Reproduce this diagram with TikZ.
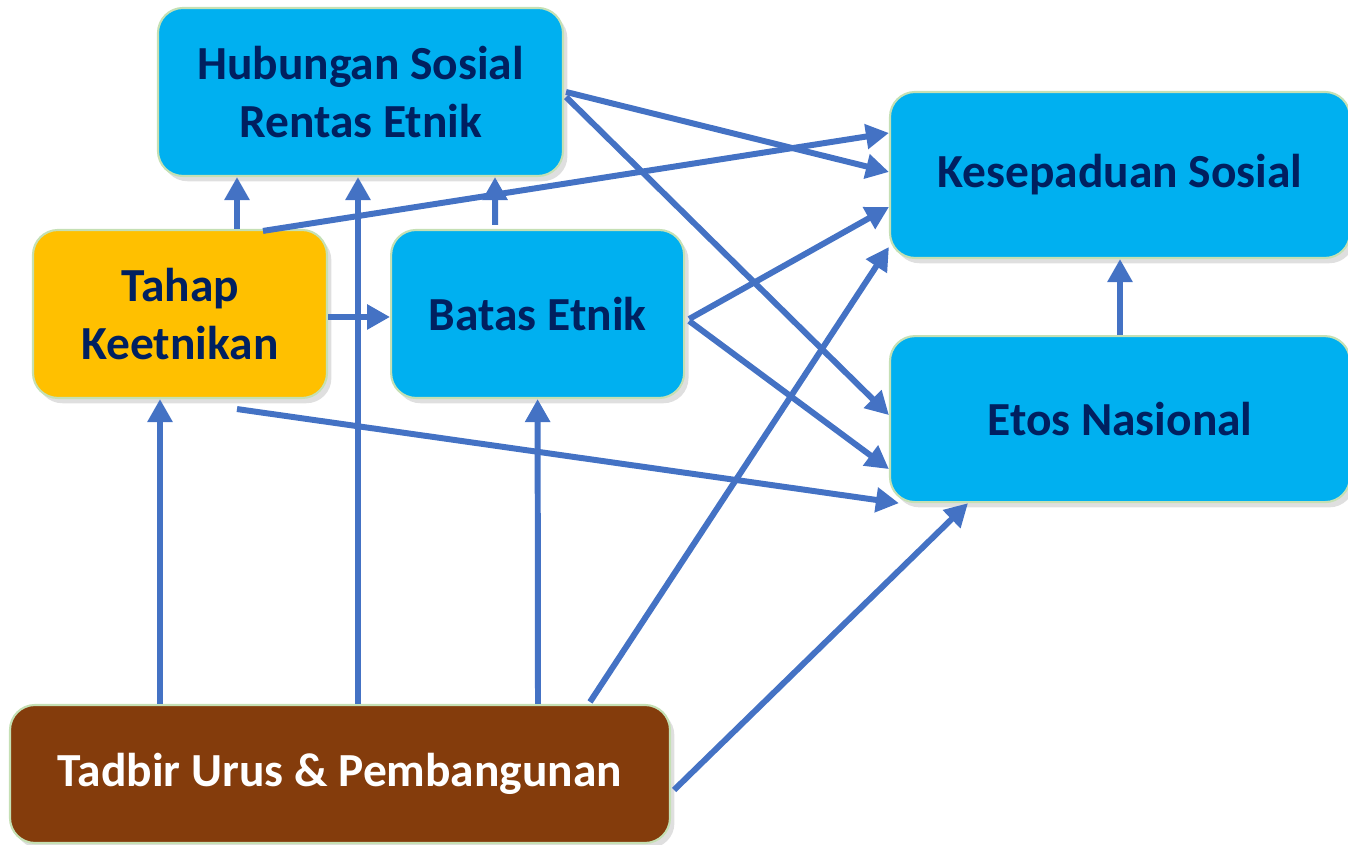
\documentclass[tikz,border=0pt]{standalone}
\usepackage{fontspec}
\setmainfont{Carlito}
\usetikzlibrary{shapes,arrows.meta,positioning,calc,shadows}

\definecolor{boxblue}{HTML}{00B0F0}
\definecolor{boxorange}{HTML}{FFC000}
\definecolor{boxbrown}{HTML}{843C0C}
\definecolor{boxedge}{HTML}{C5E0B4}
\definecolor{textnavy}{HTML}{002060}
\definecolor{arrowblue}{HTML}{4472C4}

\begin{document}
\begin{tikzpicture}
	[
		bluebox/.style={rectangle, rounded corners=0.5cm, draw=boxedge, line width=1.2pt, fill=boxblue, text=textnavy, font=\fontsize{27}{32.5}\selectfont\bfseries, align=center, minimum width=8.1cm, minimum height=3.36cm, drop shadow={shadow xshift=2.5pt, shadow yshift=-3pt, opacity=0.25}},
		orangebox/.style={bluebox, fill=boxorange, minimum width=5.88cm},
		brownbox/.style={bluebox, fill=boxbrown, text=white, minimum width=13.2cm, minimum height=2.76cm},
		arr/.style={draw=arrowblue, line width=3.4pt, -{Triangle[length=0.46cm, width=0.48cm]}},
	]

	\useasboundingbox (0,0) rectangle (26.96,16.9);

	\node [bluebox] (hubungan) at (7.21,15.06) {Hubungan Sosial\\Rentas Etnik};
	\node [orangebox] (tahap) at (3.6,10.62) {Tahap\\Keetnikan};
	\node [bluebox, minimum width=5.86cm] (batas) [right=1.24cm of tahap] {Batas Etnik};
	\node [bluebox, minimum width=9.2cm, minimum height=3.32cm] (kesepaduan) at (22.4,13.4) {Kesepaduan Sosial};
	\node [bluebox, minimum width=9.2cm, minimum height=3.32cm] (etos) [below=1.52cm of kesepaduan] {Etos Nasional};
	\node [brownbox] (tadbir) at (6.8,1.42) {Tadbir Urus \& Pembangunan};

	% ke atas
	\draw[arr] ($(tahap.north)+(1.14,0)$) -- ($(hubungan.south)+(-2.47,0)$);
	\draw[arr] ($(tadbir.north)+(0.36,0)$) -- ($(hubungan.south)+(-0.05,0)$);
	\draw[arr] ($(batas.north)+(-0.85,0.08)$) -- ($(hubungan.south)+(2.69,0)$);
	\draw[arr] ($(tadbir.north)+(-3.6,0)$) -- ($(tahap.south)+(-0.4,0)$);
	\draw[arr] ($(tadbir.north)+(3.96,0)$) -- (batas.south);
	\draw[arr] (etos.north) -- (kesepaduan.south);
	\draw[arr] ($(tahap.east)+(0,-0.06)$) -- ($(batas.west)+(0,-0.06)$);

	% ke kanan
	\draw[arr] ($(tahap.north)+(1.66,-0.04)$) -- ($(kesepaduan.west)+(0,0.84)$);
	\draw[arr] ($(hubungan.east)+(0.04,0)$) -- ($(kesepaduan.west)+(0,0.06)$);
	\draw[arr] ($(hubungan.east)+(0.04,-0.1)$) -- ($(etos.west)+(0,0.08)$);
	\draw[arr] ($(batas.east)+(0.08,-0.1)$) -- ($(kesepaduan.west)+(0,-0.64)$);
	\draw[arr] ($(batas.east)+(0.08,-0.14)$) -- ($(etos.west)+(0,-1.0)$);
	\draw[arr] ($(tahap.south)+(1.14,-0.2)$) -- ($(etos.south west)+(0.2,0)$);
	\draw[arr] ($(tadbir.north)+(5.0,0.04)$) -- ($(kesepaduan.west)+(0,-1.44)$);
	\draw[arr] ($(tadbir.east)+(0.06,-0.32)$) -- ($(etos.south)+(-3.04,0)$);

\end{tikzpicture}
\end{document}
